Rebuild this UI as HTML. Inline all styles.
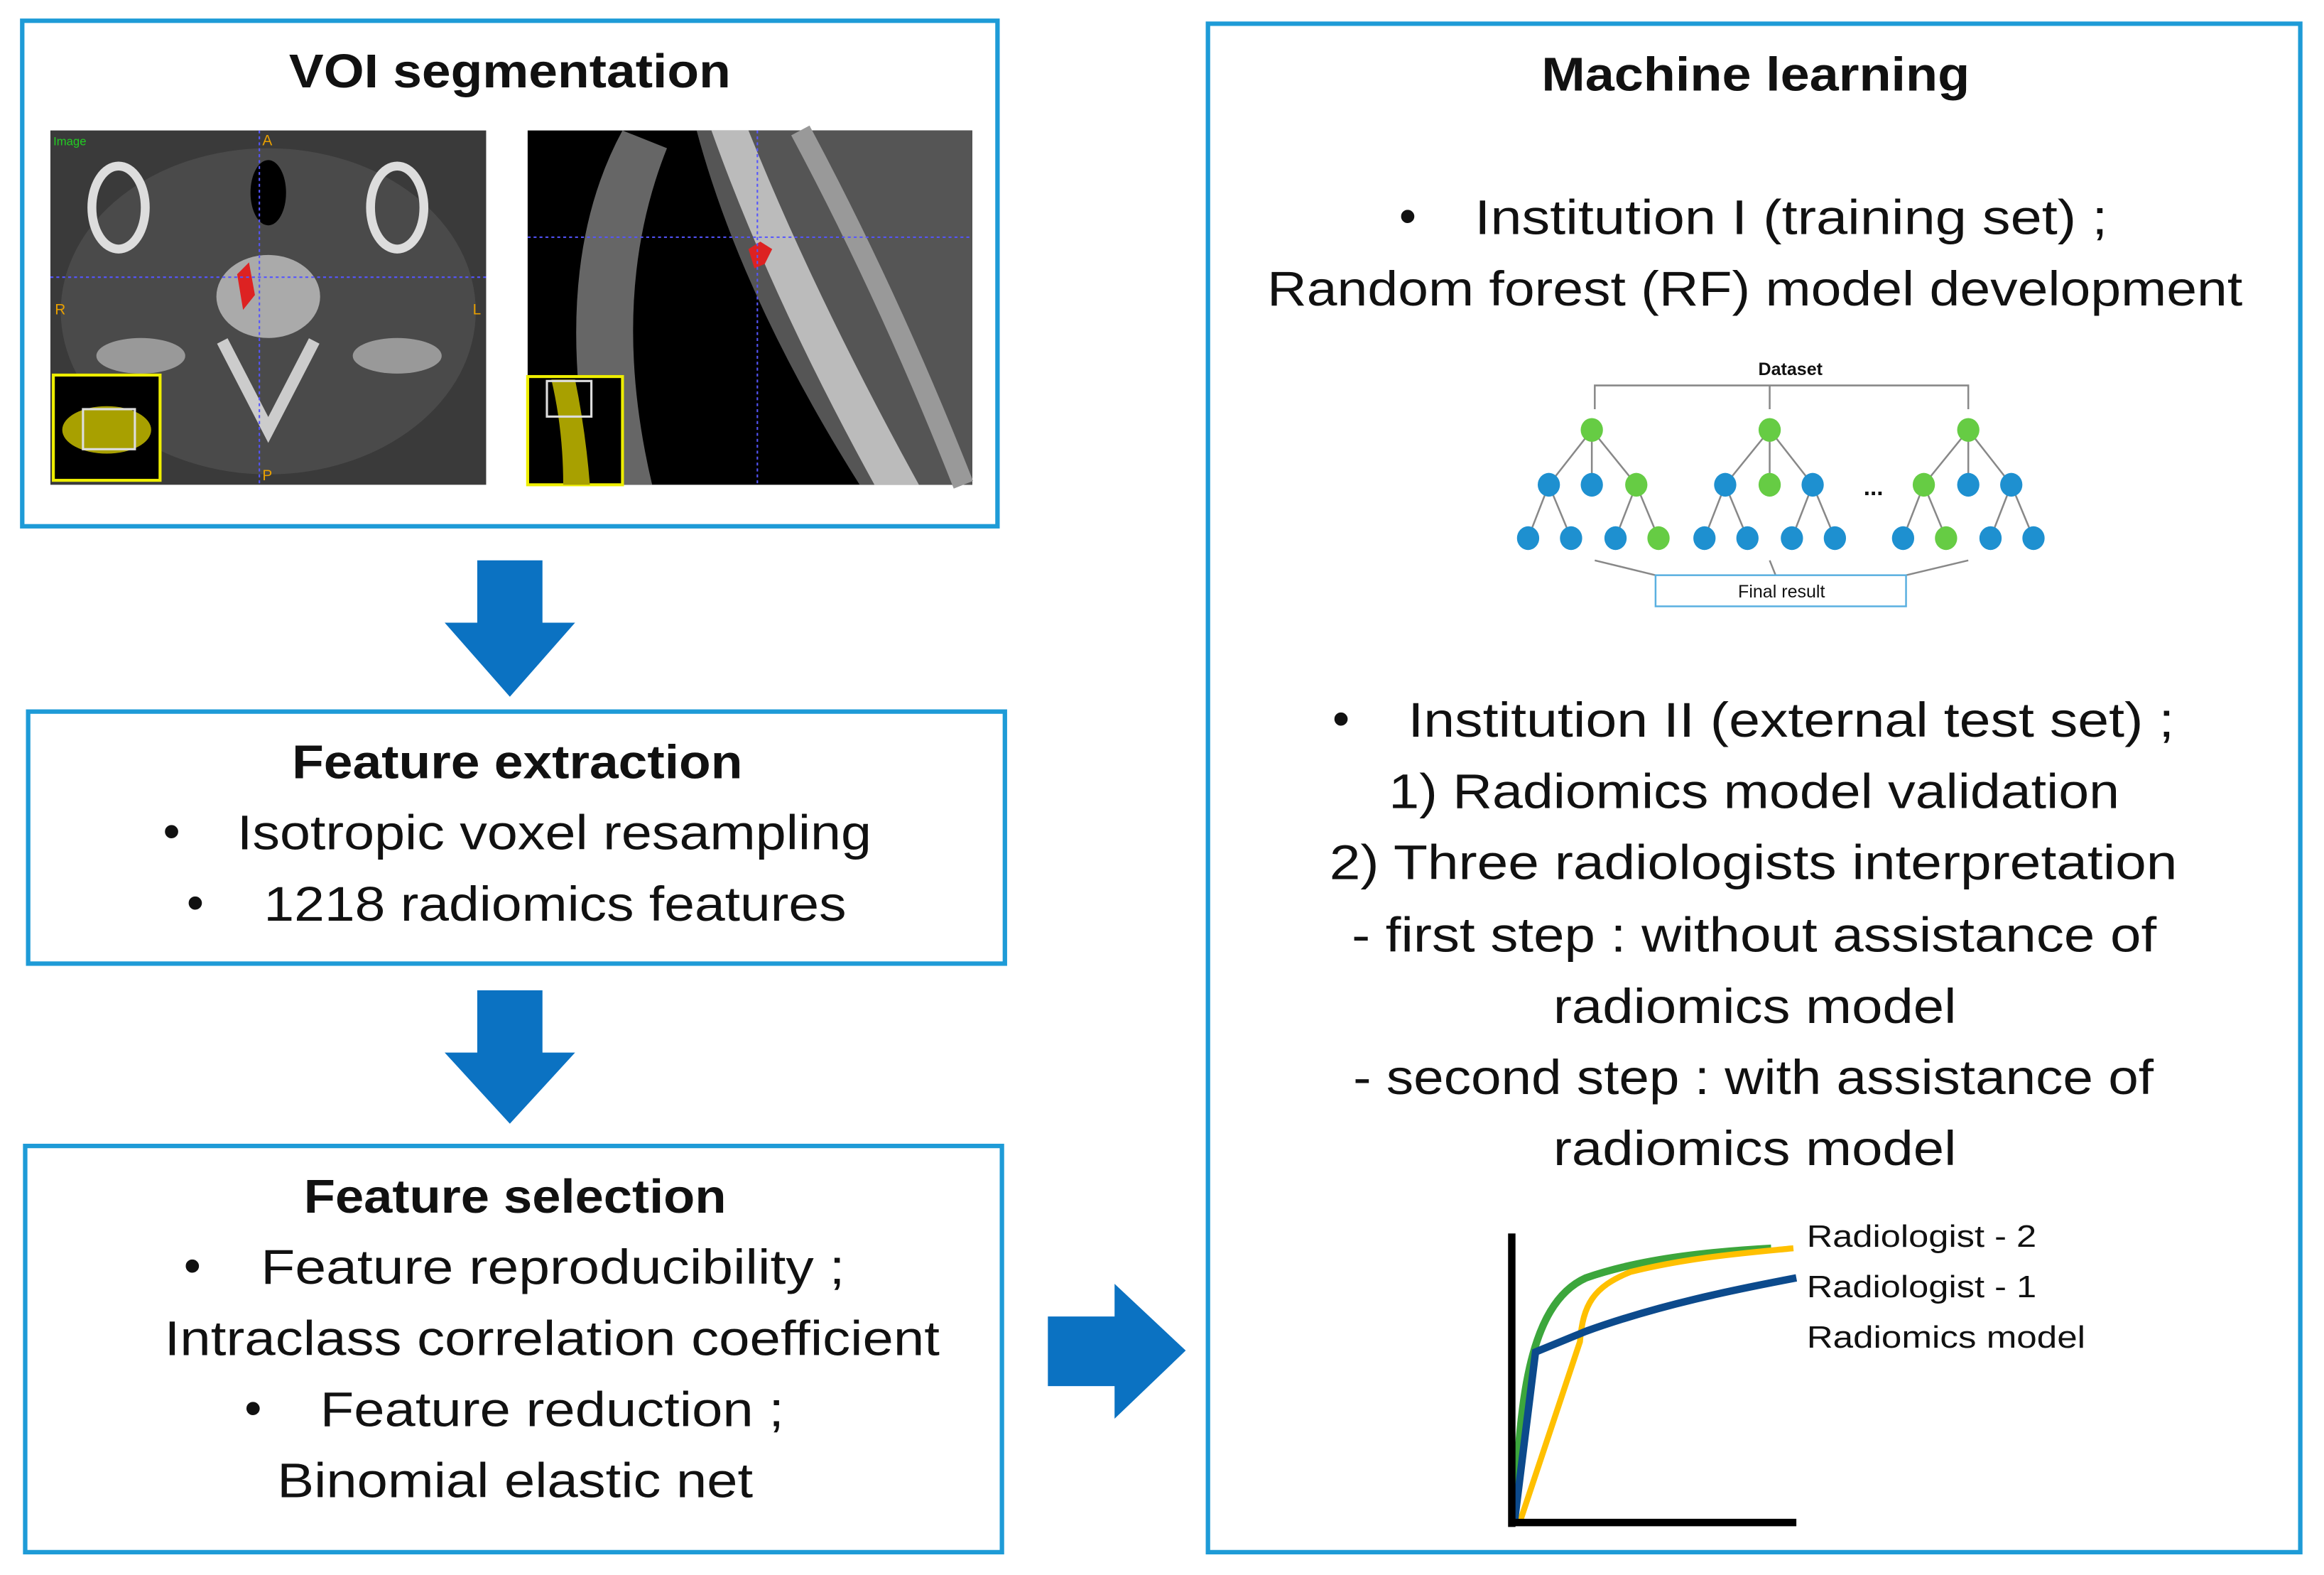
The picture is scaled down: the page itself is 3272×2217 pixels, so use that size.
<!DOCTYPE html>
<html><head><meta charset="utf-8"><style>
html,body{margin:0;padding:0;background:#fff;}
svg{display:block;}
text{font-family:"Liberation Sans",sans-serif;fill:#111;}
</style></head><body>
<svg width="3272" height="2217" viewBox="0 0 1568 1062.4" preserveAspectRatio="none" xmlns="http://www.w3.org/2000/svg">
<g fill="none" stroke="#1e9bd7" stroke-width="3">
<rect x="15" y="14" width="658" height="341"/>
<rect x="19" y="480" width="659" height="170"/>
<rect x="17" y="773" width="659" height="274"/>
<rect x="815" y="16" width="737" height="1031"/>
</g>
<g fill="#0b72c2">
<polygon points="322,378 366,378 366,420 388,420 344,470 300,420 322,420"/>
<polygon points="322,668 366,668 366,710 388,710 344,758 300,710 322,710"/>
<polygon points="707,888 752,888 752,866 800,911 752,957 752,935 707,935"/>
</g>
<g font-weight="bold" font-size="32" lengthAdjust="spacingAndGlyphs">
<text x="195" y="59" textLength="298" lengthAdjust="spacingAndGlyphs">VOI segmentation</text>
<text x="197" y="525" textLength="304" lengthAdjust="spacingAndGlyphs">Feature extraction</text>
<text x="205" y="818" textLength="285" lengthAdjust="spacingAndGlyphs">Feature selection</text>
<text x="1040" y="61" textLength="289" lengthAdjust="spacingAndGlyphs">Machine learning</text>
</g>
<g font-size="33">
<text x="110" y="572">•</text><text x="160" y="573" textLength="428" lengthAdjust="spacingAndGlyphs">Isotropic voxel resampling</text>
<text x="126" y="620">•</text><text x="178" y="621" textLength="393" lengthAdjust="spacingAndGlyphs">1218 radiomics features</text>
<text x="124" y="865">•</text><text x="176" y="866" textLength="394" lengthAdjust="spacingAndGlyphs">Feature reproducibility ;</text>
<text x="111" y="914" textLength="523" lengthAdjust="spacingAndGlyphs">Intraclass correlation coefficient</text>
<text x="165" y="961">•</text><text x="216" y="962" textLength="313" lengthAdjust="spacingAndGlyphs">Feature reduction ;</text>
<text x="187" y="1010" textLength="321" lengthAdjust="spacingAndGlyphs">Binomial elastic net</text>
<text x="944" y="157">•</text><text x="995" y="158" textLength="427" lengthAdjust="spacingAndGlyphs">Institution I (training set) ;</text>
<text x="855" y="206" textLength="658" lengthAdjust="spacingAndGlyphs">Random forest (RF) model development</text>
<text x="899" y="496">•</text><text x="950" y="497" textLength="517" lengthAdjust="spacingAndGlyphs">Institution II (external test set) ;</text>
<text x="937" y="545" textLength="493" lengthAdjust="spacingAndGlyphs">1) Radiomics model validation</text>
<text x="897" y="593" textLength="572" lengthAdjust="spacingAndGlyphs">2) Three radiologists interpretation</text>
<text x="912" y="642" textLength="543" lengthAdjust="spacingAndGlyphs">- first step : without assistance of</text>
<text x="1048" y="690" textLength="272" lengthAdjust="spacingAndGlyphs">radiomics model</text>
<text x="913" y="738" textLength="540" lengthAdjust="spacingAndGlyphs">- second step : with assistance of</text>
<text x="1048" y="786" textLength="272" lengthAdjust="spacingAndGlyphs">radiomics model</text>
</g>
<!-- CT image 1 -->
<rect x="34" y="88" width="294" height="239" fill="#3a3a3a"/>
<ellipse cx="181" cy="210" rx="140" ry="110" fill="#4a4a4a"/>
<ellipse cx="80" cy="140" rx="18" ry="28" fill="none" stroke="#ddd" stroke-width="6"/>
<ellipse cx="268" cy="140" rx="18" ry="28" fill="none" stroke="#ddd" stroke-width="6"/>
<ellipse cx="181" cy="130" rx="12" ry="22" fill="#000"/>
<ellipse cx="181" cy="200" rx="35" ry="28" fill="#aaa"/>
<path d="M150 230 L181 290 L212 230" stroke="#ccc" stroke-width="8" fill="none"/>
<ellipse cx="95" cy="240" rx="30" ry="12" fill="#999"/>
<ellipse cx="268" cy="240" rx="30" ry="12" fill="#999"/>
<path d="M160 185 l8 -8 l4 22 l-8 10z" fill="#d22"/>
<line x1="34" y1="187" x2="328" y2="187" stroke="#55f" stroke-width="1" stroke-dasharray="2,2"/>
<line x1="175" y1="88" x2="175" y2="327" stroke="#55f" stroke-width="1" stroke-dasharray="2,2"/>
<rect x="36" y="253" width="72" height="71" fill="#000" stroke="#ee0" stroke-width="2"/>
<ellipse cx="72" cy="290" rx="30" ry="16" fill="#a8a000"/>
<rect x="56" y="276" width="35" height="27" fill="none" stroke="#ddd" stroke-width="1.5"/>
<text x="36" y="98" font-size="8" style="fill:#2c2">Image</text>
<g font-size="10" font-family="Liberation Serif">
<text x="177" y="98" style="fill:#e9a000">A</text><text x="37" y="212" style="fill:#e9a000">R</text><text x="319" y="212" style="fill:#e9a000">L</text><text x="177" y="324" style="fill:#e9a000">P</text></g>
<!-- CT image 2 -->
<rect x="356" y="88" width="300" height="239" fill="#000"/>
<path d="M420 88 Q370 180 400 327 L440 327 Q410 200 450 100 Z" fill="#666"/>
<path d="M470 88 Q500 200 580 327 L656 327 L656 88 Z" fill="#555"/>
<path d="M480 88 Q520 200 590 327 L620 327 Q550 200 505 88 Z" fill="#bbb"/>
<path d="M540 88 Q600 200 650 327" stroke="#999" stroke-width="14" fill="none"/>
<path d="M505 168 l8 -5 l8 5 l-5 10 l-7 3z" fill="#d22"/>
<line x1="356" y1="160" x2="656" y2="160" stroke="#55f" stroke-width="1" stroke-dasharray="2,2"/>
<line x1="511" y1="88" x2="511" y2="327" stroke="#55f" stroke-width="1" stroke-dasharray="2,2"/>
<rect x="356" y="254" width="64" height="73" fill="#000" stroke="#ee0" stroke-width="2"/>
<path d="M372 256 Q380 290 380 327 L398 327 Q395 290 388 256Z" fill="#a8a000"/>
<rect x="369" y="257" width="30" height="24" fill="none" stroke="#ddd" stroke-width="1.5"/>
<!-- Tree diagram -->
<text x="1208" y="253" font-size="12" font-weight="bold" text-anchor="middle">Dataset</text>
<g stroke="#888" stroke-width="1.2" fill="none">
<path d="M1076 276 V260 H1328 V276 M1194 260 V276"/>
<path d="M1074 290 L1045 327 M1074 290 L1074 327 M1074 290 L1104 327 M1045 327 L1031 363 M1045 327 L1060 363 M1104 327 L1090 363 M1104 327 L1119 363"/>
<path d="M1194 290 L1164 327 M1194 290 L1194 327 M1194 290 L1223 327 M1164 327 L1150 363 M1164 327 L1179 363 M1223 327 L1209 363 M1223 327 L1238 363"/>
<path d="M1328 290 L1298 327 M1328 290 L1328 327 M1328 290 L1357 327 M1298 327 L1284 363 M1298 327 L1313 363 M1357 327 L1343 363 M1357 327 L1372 363"/>
<path d="M1076 378 L1117 388 M1194 378 L1198 388 M1328 378 L1286 388"/>
</g>
<g fill="#1e90d0">
<ellipse cx="1045" cy="327" rx="7.5" ry="8"/><ellipse cx="1074" cy="327" rx="7.5" ry="8"/>
<ellipse cx="1031" cy="363" rx="7.5" ry="8"/><ellipse cx="1060" cy="363" rx="7.5" ry="8"/><ellipse cx="1090" cy="363" rx="7.5" ry="8"/>
<ellipse cx="1164" cy="327" rx="7.5" ry="8"/><ellipse cx="1223" cy="327" rx="7.5" ry="8"/>
<ellipse cx="1150" cy="363" rx="7.5" ry="8"/><ellipse cx="1179" cy="363" rx="7.5" ry="8"/><ellipse cx="1209" cy="363" rx="7.5" ry="8"/><ellipse cx="1238" cy="363" rx="7.5" ry="8"/>
<ellipse cx="1328" cy="327" rx="7.5" ry="8"/><ellipse cx="1357" cy="327" rx="7.5" ry="8"/>
<ellipse cx="1284" cy="363" rx="7.5" ry="8"/><ellipse cx="1343" cy="363" rx="7.5" ry="8"/><ellipse cx="1372" cy="363" rx="7.5" ry="8"/>
</g>
<g fill="#66cc44">
<ellipse cx="1074" cy="290" rx="7.5" ry="8"/><ellipse cx="1194" cy="290" rx="7.5" ry="8"/><ellipse cx="1328" cy="290" rx="7.5" ry="8"/>
<ellipse cx="1104" cy="327" rx="7.5" ry="8"/><ellipse cx="1119" cy="363" rx="7.5" ry="8"/>
<ellipse cx="1194" cy="327" rx="7.5" ry="8"/>
<ellipse cx="1298" cy="327" rx="7.5" ry="8"/><ellipse cx="1313" cy="363" rx="7.5" ry="8"/>
</g>
<text x="1264" y="334" font-size="16" font-weight="bold" text-anchor="middle">...</text>
<rect x="1117" y="388" width="169" height="21" fill="none" stroke="#5ab0e0" stroke-width="1.2"/>
<text x="1202" y="403" font-size="12" text-anchor="middle">Final result</text>
<!-- ROC chart -->
<g fill="none" stroke-linecap="butt">
<path d="M1022 1025 C1025 950 1030 880 1070 862 C1110 848 1160 844 1195 842" stroke="#3ca63c" stroke-width="5"/>
<path d="M1026 1025 L1066 905 C1068 880 1075 868 1100 858 C1140 848 1180 845 1210 842" stroke="#ffc000" stroke-width="4"/>
<path d="M1022 1025 L1036 912 L1070 898 C1120 880 1170 870 1212 862" stroke="#0c4a8c" stroke-width="5"/>
<path d="M1020 832 V1030 M1018 1027 H1212" stroke="#000" stroke-width="5"/>
</g>
<g font-size="21">
<text x="1219" y="841" textLength="155" lengthAdjust="spacingAndGlyphs">Radiologist - 2</text>
<text x="1219" y="875" textLength="155" lengthAdjust="spacingAndGlyphs">Radiologist - 1</text>
<text x="1219" y="909" textLength="188" lengthAdjust="spacingAndGlyphs">Radiomics model</text>
</g>
</svg>
</body></html>
